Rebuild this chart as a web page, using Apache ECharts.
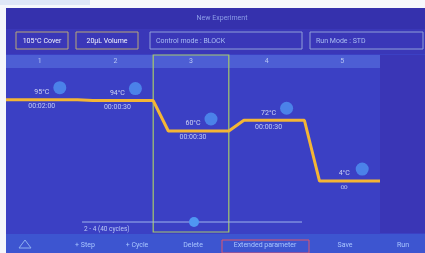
<!DOCTYPE html>
<html>
<head>
<meta charset="utf-8">
<script src="https://cdn.jsdelivr.net/npm/echarts@6/dist/echarts.min.js"></script>
<style>
  html, body { margin: 0; padding: 0; background: #fff; }
  #chart { width: 425px; height: 253px; }
</style>
</head>
<body>
<div id="chart"></div>
<script>
// stage profile
var stageNames = ['1', '2', '3', '4', '5'];
var stageTemps = [95, 94, 60, 72, 4];
var stageTimes = ['00:02:00', '00:00:30', '00:00:30', '00:00:30', '\u221e'];
var selectedStage = 2;
var cycleText = '2 - 4 (40 cycles)';
var titleText = 'New Experiment';
var topBoxes = ['105\u00b0C Cover', '20\u03bcL Volume', 'Control mode : BLOCK', 'Run Mode : STD'];
var toolButtons = ['+ Step', '+ Cycle', 'Delete', 'Extended parameter', 'Save', 'Run'];

var ramp = 0.2;
var profile = [];
stageTemps.forEach(function (t, i) {
    profile.push([i === 0 ? 0 : i + ramp, t]);
    profile.push([i + 1, t]);
});
var centers = stageTemps.map(function (t, i) { return [i + 0.5, t]; });

var chart = echarts.init(document.getElementById('chart'));

var font = 'Roboto';
var txt = function (x, y, s, color, size, align) {
    return {
        type: 'text', x: x, y: y, z: 20,
        style: {text: s, fill: color, fontSize: size || 7, fontFamily: font,
            align: align || 'center', verticalAlign: 'middle'}
    };
};
var box = function (x, y, w, h, stroke, z) {
    return {type: 'rect', z: z || 5, shape: {x: x, y: y, width: w, height: h},
        style: {fill: 'none', stroke: stroke, lineWidth: 1}};
};

// top setting boxes
var boxDefs = [
    {x: 16, w: 52, stroke: '#b8a878', color: '#f2f4ff', align: 'center'},
    {x: 76, w: 62, stroke: '#b8a878', color: '#f2f4ff', align: 'center'},
    {x: 150, w: 152, stroke: '#8f9fd8', color: '#a9bdf3', align: 'left'},
    {x: 310, w: 113, stroke: '#8f9fd8', color: '#a9bdf3', align: 'left'}
];
var chrome = [
    {type: 'rect', z: 0, shape: {x: 0, y: 0, width: 425, height: 253}, style: {fill: '#3b40c4'}},
    {type: 'rect', z: 0, shape: {x: 6, y: 8, width: 419, height: 21}, style: {fill: '#3531ad'}},
    {type: 'rect', z: 0, shape: {x: 6, y: 29, width: 419, height: 25}, style: {fill: '#3a37b8'}},
    {type: 'rect', z: 0, shape: {x: 6, y: 55, width: 374, height: 13}, style: {fill: '#4d5ed4'}},
    {type: 'rect', z: 0, shape: {x: 380, y: 55, width: 45, height: 178}, style: {fill: '#3a36b6'}},
    {type: 'rect', z: 0, shape: {x: 6, y: 234, width: 419, height: 19}, style: {fill: '#3d55d0'}},
    txt(222, 18, titleText, '#8d9ee8', 7)
];
boxDefs.forEach(function (b, i) {
    chrome.push(box(b.x, 32, b.w, 17, b.stroke));
    chrome.push(txt(b.align === 'center' ? b.x + b.w / 2 : b.x + 6, 41, topBoxes[i], b.color, 7, b.align));
});

// cycle slider
chrome.push({type: 'line', z: 5, shape: {x1: 82, y1: 222, x2: 302, y2: 222},
    style: {stroke: '#9fb3ec', lineWidth: 1}});
chrome.push({type: 'circle', z: 6, shape: {cx: 194, cy: 222, r: 5}, style: {fill: '#4f96f2'}});
chrome.push(txt(84, 229, cycleText, '#b9c9f5', 6.5, 'left'));

// toolbar
var btnX = [85, 137, 193, 265, 345, 403];
toolButtons.forEach(function (s, i) {
    chrome.push(txt(btnX[i], 245, s, '#a9c6ff', 7));
});
chrome.push(box(222, 240, 87, 13, '#e0566a', 21));
chrome.push({type: 'polygon', z: 20, shape: {points: [[19, 248], [25, 240], [31, 248]]},
    style: {fill: 'none', stroke: '#8fb0f0', lineWidth: 1}});

// photo edge
chrome.push({type: 'rect', z: 30, shape: {x: 0, y: 0, width: 425, height: 8}, style: {fill: '#f6f8fc'}});
chrome.push({type: 'rect', z: 30, shape: {x: 0, y: 0, width: 6, height: 253}, style: {fill: '#f4f6fb'}});
chrome.push({type: 'rect', z: 31, shape: {x: 0, y: 0, width: 90, height: 5}, style: {fill: '#dfe7f7'}});

chart.setOption({
    animation: false,
    grid: {left: 2, width: 378, top: 55, height: 177},
    xAxis: [
        {type: 'value', min: 0, max: stageNames.length, show: false},
        {type: 'category', data: stageNames, position: 'top',
            axisLine: {show: false}, axisTick: {show: false}, splitLine: {show: false},
            axisLabel: {inside: true, margin: 3, color: '#b8c6f4', fontSize: 7, fontFamily: font}}
    ],
    yAxis: {type: 'value', min: -53, max: 145, show: false},
    graphic: {elements: chrome},
    series: [
        {
            type: 'line', data: profile, showSymbol: false, z: 3,
            lineStyle: {color: '#f4b535', width: 3},
            markArea: {
                silent: true,
                itemStyle: {color: 'rgba(0,0,0,0)', borderColor: '#a5c86c', borderWidth: 1.2},
                data: [[{xAxis: selectedStage}, {xAxis: selectedStage + 1}]]
            }
        },
        {
            type: 'scatter', data: centers, symbolSize: 13, symbolOffset: [20, -12], z: 2,
            itemStyle: {color: '#4f8ef0', opacity: 0.85}
        },
        {
            type: 'scatter', data: centers, symbolSize: 0, z: 4,
            label: {show: true, position: 'top', distance: 4, offset: [2, 0],
                color: '#eef2ff', fontSize: 7, fontFamily: font,
                formatter: function (p) { return stageTemps[p.dataIndex] + '\u00b0C'; }}
        },
        {
            type: 'scatter', data: centers, symbolSize: 0, z: 4,
            label: {show: true, position: 'bottom', distance: 3, offset: [2, 0],
                color: '#dfe7ff', fontSize: 7, fontFamily: font,
                formatter: function (p) { return stageTimes[p.dataIndex]; }}
        }
    ]
});
</script>
</body>
</html>
